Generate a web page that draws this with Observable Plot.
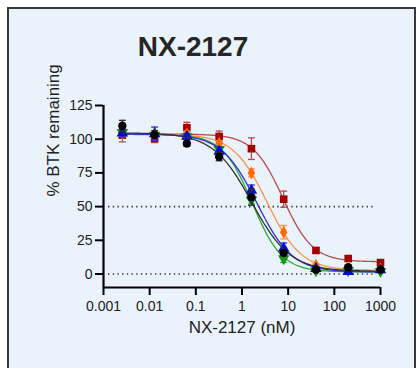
<!DOCTYPE html>
<html><head><meta charset="utf-8">
<script src="https://cdn.jsdelivr.net/npm/d3@7"></script>
<script src="https://cdn.jsdelivr.net/npm/@observablehq/plot@0.6"></script>
<style>
html,body{margin:0;padding:0;background:#fff;width:419px;height:368px;overflow:hidden;}
#box{position:absolute;left:7px;top:7px;width:405px;height:400px;background:#eaf3fc;border:2px solid #383838;border-bottom:none;}
#title{position:absolute;left:93px;width:200px;top:33px;text-align:center;font:bold 28px "Liberation Sans",Arial,sans-serif;line-height:28px;color:#262626;}
#chart{position:absolute;left:0;top:0;}
</style></head>
<body>
<div id="box"></div>
<div id="title">NX-2127</div>
<div id="chart"></div>
<script>
// ---- data ----
const conc = [0.00256, 0.0128, 0.064, 0.32, 1.6, 8, 40, 200, 1000];
const xTicks = [0.001, 0.01, 0.1, 1, 10, 100, 1000];
const xTickLabels = ["0.001", "0.01", "0.1", "1", "10", "100", "1000"];
const yTicks = [0, 25, 50, 75, 100, 125];
const refLines = [0, 50];

const redY = [103, 100.5, 108.5, 102, 93, 55.5, 17.5, 11.5, 8.5];
const redErr = [5, 3, 4, 4, 8, 6, 2, 2, 2];
const orangeY = [104, 103, 104, 97, 75, 31, 6.5, 3.5, 4];
const orangeErr = [2, 2, 2, 2, 3, 5, 1, 1, 1];
const greenY = [105, 103, 102, 92.5, 55, 11.5, 2.5, 2.5, 2];
const greenErr = [2, 2, 2, 2, 3, 3, 1, 1, 1];
const blueY = [104.5, 104, 102, 91, 62, 19, 4, 1.7, 3];
const blueErr = [3, 5, 2, 3, 4, 4, 1, 1, 1];
const blackY = [110, 103.3, 96.7, 87, 57, 15.5, 3.2, 5, 3.4];
const blackErr = [4, 3, 2, 3, 6, 2, 1, 1.5, 1];

const series = [
  {y: redY, err: redErr, color: "#a50000", curve: "#b94a4c", symbol: "square", r: 4.3},
  {y: orangeY, err: orangeErr, color: "#ff6a00", curve: "#ff924a", symbol: "diamond", r: 3.9},
  {y: greenY, err: greenErr, color: "#109a10", curve: "#2ea82e", symbol: "triDown", r: 4.3},
  {y: blueY, err: blueErr, color: "#0a0acc", curve: "#3030dd", symbol: "triangle", r: 4.3},
  {y: blackY, err: blackErr, color: "#000000", curve: "#333333", symbol: "circle", r: 4.2}
];

// ---- 4-parameter logistic least-squares fit (derived from the data) ----
function fit4pl(xs, ys) {
  const lx = xs.map(Math.log10);
  const f = (p, l) => p[1] + (p[0] - p[1]) / (1 + Math.pow(10, (l - p[2]) * p[3]));
  const cost = p => d3.sum(lx, (l, i) => (f(p, l) - ys[i]) ** 2);
  const p0 = [d3.mean(ys.slice(0, 3)), d3.min(ys), 0.5, 1.2];
  const steps = [5, 3, 0.5, 0.3];
  let simplex = [p0.slice()];
  for (let k = 0; k < 4; k++) { const p = p0.slice(); p[k] += steps[k]; simplex.push(p); }
  let vals = simplex.map(cost);
  for (let it = 0; it < 3000; it++) {
    const idx = d3.range(5).sort((a, b) => vals[a] - vals[b]);
    simplex = idx.map(i => simplex[i]); vals = idx.map(i => vals[i]);
    const cen = [0, 1, 2, 3].map(k => d3.mean(simplex.slice(0, 4), p => p[k]));
    const worst = simplex[4];
    const pt = (t) => cen.map((c, k) => c + t * (worst[k] - c));
    const xr = pt(-1), fr = cost(xr);
    if (fr < vals[0]) {
      const xe = pt(-2), fe = cost(xe);
      if (fe < fr) { simplex[4] = xe; vals[4] = fe; } else { simplex[4] = xr; vals[4] = fr; }
    } else if (fr < vals[3]) { simplex[4] = xr; vals[4] = fr; }
    else {
      const xc = pt(0.5), fc = cost(xc);
      if (fc < vals[4]) { simplex[4] = xc; vals[4] = fc; }
      else {
        for (let j = 1; j < 5; j++) { simplex[j] = simplex[j].map((v, k) => simplex[0][k] + 0.5 * (v - simplex[0][k])); vals[j] = cost(simplex[j]); }
      }
    }
  }
  const best = simplex[d3.minIndex(vals)];
  return l => f(best, l);
}

const cap = {draw(ctx, size) { const w = Math.sqrt(size); ctx.moveTo(-w / 2, 0); ctx.lineTo(w / 2, 0); }};
const triDown = {draw(ctx, size) {
  const s3 = Math.sqrt(3); const y = -Math.sqrt(size / (s3 * 3));
  ctx.moveTo(0, -y * 2); ctx.lineTo(-s3 * y, y); ctx.lineTo(s3 * y, y); ctx.closePath();
}};

const marks = [];
marks.push(Plot.ruleY(refLines, {stroke: "#3a3a3a", strokeWidth: 1.6, strokeDasharray: "1.4,3.3", insetLeft: 5, insetRight: 5}));

const lmin = Math.log10(conc[0]), lmax = Math.log10(conc[conc.length - 1]);
for (const s of series) {
  const model = fit4pl(conc, s.y);
  const curvePts = d3.range(0, 241).map(i => {
    const l = lmin + (lmax - lmin) * i / 240;
    return {x: Math.pow(10, l), y: model(l)};
  });
  const rows = conc.map((c, i) => ({x: c, y: s.y[i], lo: s.y[i] - s.err[i], hi: s.y[i] + s.err[i]}));
  marks.push(Plot.ruleX(rows, {x: "x", y1: "lo", y2: "hi", stroke: s.curve, strokeWidth: 1.3}));
  marks.push(Plot.dot(rows, {x: "x", y: "hi", symbol: cap, r: 3.9, stroke: s.curve, fill: "none", strokeWidth: 1.3}));
  marks.push(Plot.dot(rows, {x: "x", y: "lo", symbol: cap, r: 3.9, stroke: s.curve, fill: "none", strokeWidth: 1.3}));
  marks.push(Plot.line(curvePts, {x: "x", y: "y", stroke: s.curve, strokeWidth: 1.3, curve: "linear"}));
  marks.push(Plot.dot(rows, {x: "x", y: "y", symbol: s.symbol === "triDown" ? triDown : s.symbol, r: s.r, fill: s.color, stroke: "none"}));
}

marks.push(Plot.ruleY([-10], {stroke: "#000", strokeWidth: 2.2}));
marks.push(Plot.ruleX([0.001], {stroke: "#000", strokeWidth: 2.2}));
marks.push(Plot.axisX({ticks: xTicks, tickFormat: d => xTickLabels[xTicks.indexOf(d)], tickSize: 8, tickPadding: 6, strokeWidth: 2, fontSize: 14, label: null, fill: "#222"}));
marks.push(Plot.axisY({ticks: yTicks, tickSize: 8, tickPadding: 3, strokeWidth: 2, fontSize: 14, label: null, fill: "#222"}));
marks.push(Plot.text(["NX-2127 (nM)"], {frameAnchor: "bottom", dy: 45, fontSize: 17, fill: "#222"}));
marks.push(Plot.text(["% BTK remaining"], {frameAnchor: "left", dx: -50, rotate: -90, fontSize: 17, fill: "#222"}));

const chart = Plot.plot({
  width: 419, height: 368,
  marginLeft: 103, marginRight: 39, marginTop: 105, marginBottom: 81,
  style: {background: "transparent", fontFamily: "'Liberation Sans', Arial, sans-serif", overflow: "visible"},
  x: {type: "log", domain: [0.001, 1000]},
  y: {domain: [-10, 125]},
  marks
});
document.getElementById("chart").appendChild(chart);
</script>
</body></html>
